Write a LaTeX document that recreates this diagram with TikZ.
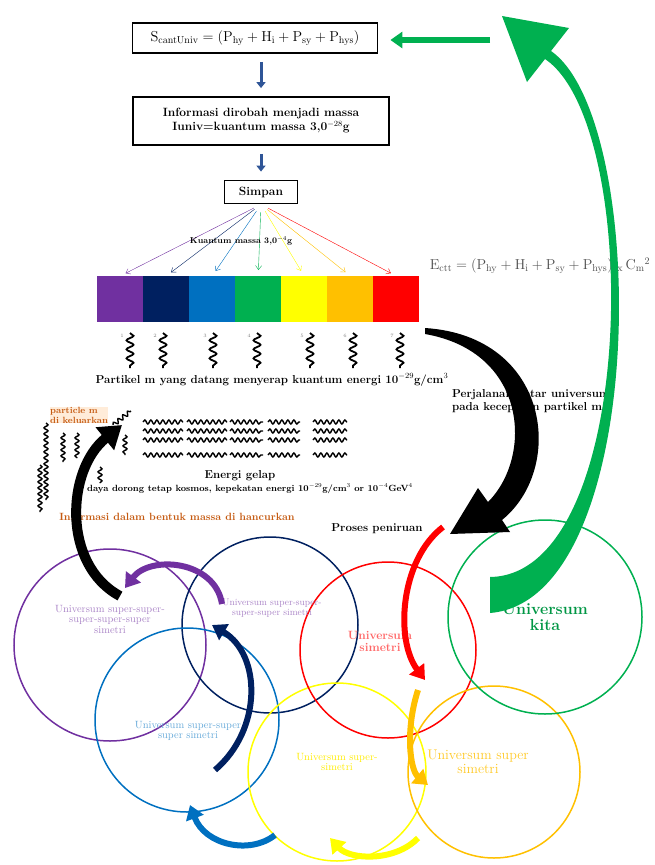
\documentclass[tikz,border=0pt]{standalone}
\usepackage{amsmath}
\usepackage{xcolor}
\usepackage{tikz}
\usetikzlibrary{arrows.meta, positioning, decorations.pathmorphing}

\definecolor{upurple}{HTML}{7030A0}
\definecolor{unavy}{HTML}{002060}
\definecolor{ublue}{HTML}{0070C0}
\definecolor{ugreen}{HTML}{00B050}
\definecolor{uyellow}{HTML}{FFFF00}
\definecolor{uorange}{HTML}{FFC000}
\definecolor{ured}{HTML}{FF0000}
\definecolor{ubrown}{HTML}{C55A11}
\definecolor{boxblue}{HTML}{2F5597}

\newcommand{\ukuran}[1]{\fontsize{#1}{#1}\selectfont}

\begin{document}
\begin{tikzpicture}[x=1pt, y=-1pt,
        kotak/.style={draw, line width=1.8pt, inner sep=0pt, align=center},
        panah/.style={draw=boxblue, line width=3pt, -{Triangle[length=6pt, width=9pt]}, shorten <=8pt, shorten >=8pt},
        kipas/.style={draw=#1, thin, -{Straight Barb[length=4pt, width=6pt]}, shorten <=8pt, shorten >=6pt},
        lbl/.style={font=\bfseries\ukuran{11}, inner sep=0pt, align=center},
        gelombang/.style={decorate, decoration={snake, segment length=9pt, amplitude=3.5pt}, line width=1.8pt},
        riak/.style={decorate, decoration={snake, segment length=6pt, amplitude=2pt}, line width=1.4pt},
        semesta/.style={circle, draw=#1, line width=1.5pt, inner sep=0pt},
        teks/.style={text=#1, font=\ukuran{10.5}, inner sep=0pt, align=center},
        busur/.style={draw=#1, line width=6pt, -{Triangle[length=14pt, width=18pt]}}
    ]
    \useasboundingbox (0,0) rectangle (654,865);

    % kotak alur
    \node[kotak, minimum width=245, minimum height=30] (rumus) at (255,38)
        {\ukuran{14}$\mathrm{S}_{\mathrm{cantUniv}} = (\mathrm{P}_{\mathrm{hy}} + \mathrm{H}_{\mathrm{i}} + \mathrm{P}_{\mathrm{sy}} + \mathrm{P}_{\mathrm{hys}})$};
    \node[kotak, minimum width=256, minimum height=48, font=\bfseries\ukuran{12}] (info) at (261,121)
        {Informasi dirobah menjadi massa\\[2pt]Iuniv=kuantum massa 3,0$^{-28}$g};
    \node[kotak, minimum width=73, minimum height=23, font=\bfseries\ukuran{12}] (simpan) at (261,192) {Simpan};

    \draw[panah] (rumus.south -| simpan) -- (info.north -| simpan);
    \draw[panah] (info.south -| simpan) -- (simpan.north);

    % spektrum
    \foreach \w [count=\i] in {upurple, unavy, ublue, ugreen, uyellow, uorange, ured}
        \node[fill=\w, minimum width=46, minimum height=46, inner sep=0pt, anchor=north west] (seg\i) at ({97+46*(\i-1)},276) {};
    \foreach \w [count=\i] in {upurple, unavy, ublue, ugreen, uyellow, uorange, ured}
        \draw[kipas=\w] (simpan.south) -- (seg\i.north);
    \node[lbl, font=\bfseries\ukuran{8.5}] (kuantum) at (241,241) {Kuantum massa 3,0$^{-4}$g};

    % partikel datang
    \foreach \x [count=\i] in {130,163,213,257,310,353,400} {
        \draw[gelombang] (\x,333) -- (\x,368);
        \node[text=gray, font=\ukuran{5}] (d\i) at (\x-8,336) {\i};
    }
    \node[lbl, font=\bfseries\ukuran{11.5}] (partikel) at (272,380) {Partikel m yang datang menyerap kuantum energi 10$^{-29}$g/cm$^3$};

    % energi gelap
    \foreach \y in {422,431,440,455}
        \foreach \a/\b in {143/183, 187/227, 230/263, 268/300, 313/347}
            \draw[riak] (\a,\y) -- (\b,\y);
    \foreach \x/\p/\q in {46/423/500, 63/433/462, 77/433/458, 125/435/455, 100/467/483, 40/465/512}
        \draw[riak] (\x,\p) -- (\x,\q);
    \draw[riak] (113,425) -- (131,411);
    \node[lbl, font=\bfseries\ukuran{9}, text=ubrown, fill=orange!15, align=left, anchor=west] (keluar) at (50,415) {particle m\\[1pt]di keluarkan};
    \node[lbl, font=\bfseries\ukuran{11.5}] (gelap) at (240,476) {Energi gelap};
    \node[lbl, font=\bfseries\ukuran{9}] (daya) at (250,489) {daya dorong tetap kosmos, kepekatan energi 10$^{-29}$g/cm$^3$ or 10$^{-4}$GeV$^4$};
    \node[lbl, font=\bfseries\ukuran{10.5}, text=ubrown] (hancur) at (177,517) {Informasi dalam bentuk massa di hancurkan};
    \node[lbl, font=\bfseries\ukuran{11.5}] (tiru) at (377,529) {Proses peniruan};

    % kanan
    \node[text=black!70, inner sep=0pt] (energi) at (540,266)
        {\ukuran{14}$\mathrm{E}_{\mathrm{ctt}} = (\mathrm{P}_{\mathrm{hy}} + \mathrm{H}_{\mathrm{i}} + \mathrm{P}_{\mathrm{sy}} + \mathrm{P}_{\mathrm{hys}})\ _{\mathrm{x}}\,\mathrm{C}_{\mathrm{m}}{}^2$};
    \node[lbl, font=\bfseries\ukuran{11.5}, align=left, anchor=west] (jalan) at (452,401) {Perjalanan antar universum\\[1pt]pada kecepatan partikel m};

    % semesta
    \node[semesta=upurple, minimum size=192] (c1) at (110,645) {};
    \node[semesta=unavy, minimum size=176] (c2) at (270,625) {};
    \node[semesta=ublue, minimum size=184] (c3) at (187,720) {};
    \node[semesta=uyellow, minimum size=178] (c4) at (337,772) {};
    \node[semesta=ured, minimum size=176] (c5) at (388,650) {};
    \node[semesta=uorange, minimum size=172] (c6) at (494,772) {};
    \node[semesta=ugreen, minimum size=194] (c7) at (545,617) {};

    \node[teks=upurple!60] (t1) at (110,619) {Universum super-super-\\super-super-super\\simetri};
    \node[teks=upurple!60, font=\ukuran{9.5}] (t2) at (272,608) {Universum super-super-\\super-super simetri};
    \node[teks=ublue!60] (t3) at (188,731) {Universum super-super\\super simetri};
    \node[teks=uyellow!85!orange] (t4) at (337,762) {Universum super-\\simetri};
    \node[teks=ured!60, font=\bfseries\ukuran{12}] (t5) at (380,641) {Universum\\simetri};
    \node[teks=uorange!85, font=\ukuran{14}] (t6) at (478,762) {Universum super\\simetri};
    \node[teks=ugreen!85!black, font=\bfseries\ukuran{16}] (t7) at (545,617) {Universum\\kita};

    % panah lengkung
    \coordinate (merahA) at (443,527);
    \coordinate (merahB) at (425,680);
    \coordinate (oranyeA) at (418,690);
    \coordinate (oranyeB) at (428,785);
    \coordinate (kuningA) at (418,838);
    \coordinate (kuningB) at (330,838);
    \coordinate (biruA) at (275,835);
    \coordinate (biruB) at (190,805);
    \coordinate (navyA) at (215,770);
    \coordinate (navyB) at (212,625);
    \coordinate (unguA) at (222,604);
    \coordinate (unguB) at (125,588);
    \coordinate (hitamA) at (120,596);
    \coordinate (hitamB) at (122,425);

    \draw[busur=ured] (merahA) .. controls (400,560) and (395,640) .. (merahB);
    \draw[busur=uorange] (oranyeA) .. controls (405,730) and (410,770) .. (oranyeB);
    \draw[busur=uyellow] (kuningA) .. controls (395,862) and (350,860) .. (kuningB);
    \draw[busur=ublue] (biruA) .. controls (250,855) and (205,845) .. (biruB);
    \draw[busur=unavy] (navyA) .. controls (262,730) and (262,655) .. (navyB);
    \draw[busur=upurple] (unguA) .. controls (215,560) and (150,555) .. (unguB);
    \draw[busur=black, line width=10pt, -{Triangle[length=22pt, width=28pt]}] (hitamA) .. controls (62,565) and (66,470) .. (hitamB);

    \fill[black] (425,328) .. controls (550,336) and (566,468) .. (502,520)
        -- (510,532) -- (450,534) -- (478,488) -- (488,502)
        .. controls (533,457) and (528,352) .. (425,334) -- cycle;

    \fill[ugreen] (490,613) .. controls (650,600) and (650,120) .. (551,51)
        -- (569,28) -- (502,16) -- (527,82) -- (545,59)
        .. controls (643,125) and (638,575) .. (490,577) -- cycle;
    \coordinate (hijauA) at (490,40);
    \draw[draw=ugreen, line width=6pt, -{Triangle[length=12pt, width=16pt]}, shorten >=12pt] (hijauA) -- (rumus.east |- hijauA);
\end{tikzpicture}
\end{document}
